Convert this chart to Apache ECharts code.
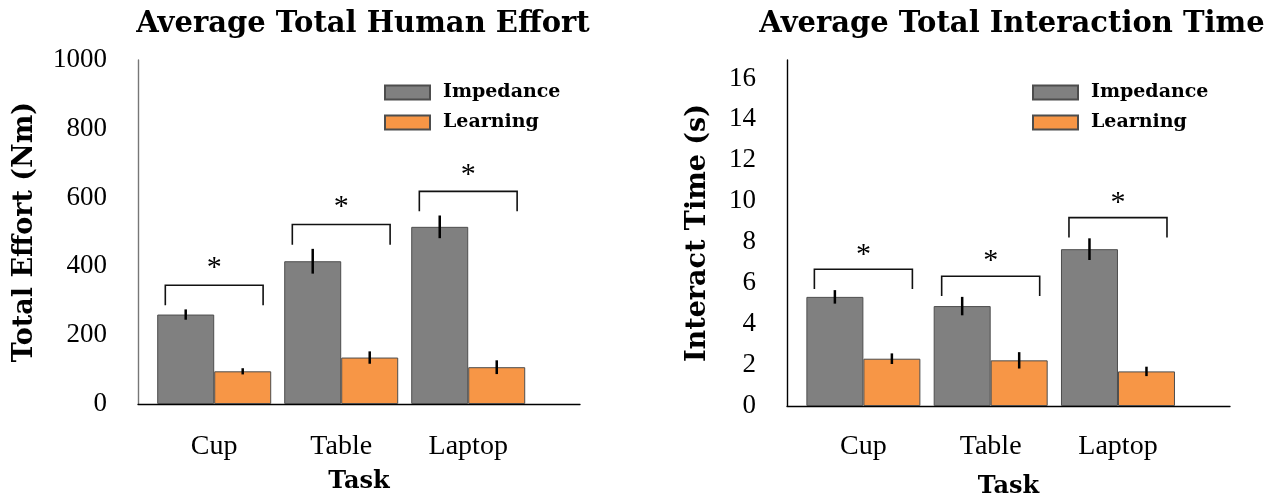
<!DOCTYPE html>
<html>
<head>
  <meta charset="utf-8" />
  <title>Average Total Human Effort / Interaction Time</title>
  <script src="https://cdn.jsdelivr.net/npm/echarts@6/dist/echarts.min.js"></script>
  <style>
    html, body { margin: 0; padding: 0; background: #fff; }
    #main { width: 1265px; height: 504px; }
  </style>
</head>
<body>
  <div id="main"></div>
  <script type="text/javascript">
    // tasks sit at x = 1, 2, 3 on a value axis so the axis can run past them
    var tasks = ['Cup', 'Table', 'Laptop'];
    var taskPos = [1, 2, 3];

    // left panel: total human effort (Nm)
    var effortImpedance = [260, 415, 515];
    var effortImpedanceErr = [15, 36, 33];
    var effortLearning = [95, 135, 107];
    var effortLearningErr = [9, 18, 20];
    var effortBracketTop = [345, 522, 618];
    var effortBracketLeg = [287, 463, 560];
    var effortStar = [406, 583, 678];

    // right panel: total interaction time (s)
    var timeImpedance = [5.33, 4.88, 7.66];
    var timeImpedanceErr = [0.33, 0.45, 0.53];
    var timeLearning = [2.31, 2.23, 1.69];
    var timeLearningErr = [0.26, 0.40, 0.23];
    var timeBracketTop = [6.68, 6.34, 9.2];
    var timeBracketLeg = [5.71, 5.37, 8.23];
    var timeStar = [7.56, 7.25, 10.1];

    var BAR_W = 57;
    var HALF_SPAN = 0.385;
    var SERIF = 'Liberation Serif';
    var BOLD_SERIF = 'DejaVu Serif';

    var myChart = echarts.init(document.getElementById('main'));

    function barSeries(name, values, color, idx) {
      return {
        type: 'bar',
        name: name,
        xAxisIndex: idx,
        yAxisIndex: idx,
        data: values.map(function (v, i) { return [taskPos[i], v]; }),
        barWidth: BAR_W,
        barGap: '0%',
        itemStyle: { color: color, borderColor: '#4d4d4d', borderWidth: 1 },
        emphasis: { disabled: true }
      };
    }

    function errorSeries(values, errs, side, idx) {
      return {
        type: 'custom',
        xAxisIndex: idx,
        yAxisIndex: idx,
        z: 3,
        silent: true,
        data: values.map(function (v, i) { return [taskPos[i], v - errs[i], v + errs[i]]; }),
        renderItem: function (params, api) {
          var lo = api.coord([api.value(0), api.value(1)]);
          var hi = api.coord([api.value(0), api.value(2)]);
          var dx = side * BAR_W / 2;
          return {
            type: 'line',
            shape: { x1: lo[0] + dx, y1: lo[1], x2: hi[0] + dx, y2: hi[1] },
            style: { stroke: '#000', lineWidth: 2.5 }
          };
        }
      };
    }

    function bracketSeries(tops, legs, stars, idx) {
      return {
        type: 'custom',
        xAxisIndex: idx,
        yAxisIndex: idx,
        z: 3,
        silent: true,
        data: tops.map(function (t, i) { return [taskPos[i], t, legs[i], stars[i]]; }),
        renderItem: function (params, api) {
          var x = api.value(0);
          var a = api.coord([x - HALF_SPAN, api.value(2)]);
          var b = api.coord([x - HALF_SPAN, api.value(1)]);
          var c = api.coord([x + HALF_SPAN, api.value(1)]);
          var d = api.coord([x + HALF_SPAN, api.value(2)]);
          var s = api.coord([x, api.value(3)]);
          return {
            type: 'group',
            children: [
              {
                type: 'polyline',
                shape: { points: [a, b, c, d] },
                style: { stroke: '#111', lineWidth: 1.6, fill: null }
              },
              {
                type: 'text',
                x: s[0],
                y: s[1] + 4,
                style: {
                  text: '*', fontFamily: SERIF, fontSize: 30, fill: '#000',
                  align: 'center', verticalAlign: 'middle'
                }
              }
            ]
          };
        }
      };
    }

    function xAxis(idx, gap, margin) {
      return {
        type: 'value',
        gridIndex: idx,
        min: 0.4,
        max: 3.88,
        name: 'Task',
        nameLocation: 'middle',
        nameGap: gap,
        nameTextStyle: { fontFamily: BOLD_SERIF, fontWeight: 'bold', fontSize: 24, color: '#000' },
        axisLine: { onZero: false, lineStyle: { color: '#000', width: 1.3 } },
        axisTick: { show: false },
        splitLine: { show: false },
        axisLabel: {
          customValues: taskPos,
          formatter: function (v) { return tasks[Math.round(v) - 1]; },
          margin: margin,
          fontFamily: SERIF,
          fontSize: 28,
          color: '#000'
        }
      };
    }

    function yAxis(idx, name, max, interval, gap, lineColor) {
      return {
        type: 'value',
        gridIndex: idx,
        min: 0,
        max: max,
        interval: interval,
        name: name,
        nameLocation: 'middle',
        nameGap: gap,
        nameTextStyle: { fontFamily: BOLD_SERIF, fontWeight: 'bold', fontSize: 27, color: '#000' },
        axisLine: { show: true, onZero: false, lineStyle: { color: lineColor, width: 1.4 } },
        axisTick: { show: false },
        splitLine: { show: false },
        axisLabel: {
          margin: 31,
          showMaxLabel: max % interval === 0,
          formatter: function (v) { return String(v); },
          fontFamily: SERIF,
          fontSize: 27,
          color: '#000'
        }
      };
    }

    function legend(left) {
      return {
        left: left,
        top: 78,
        orient: 'vertical',
        icon: 'rect',
        itemWidth: 45,
        itemHeight: 14,
        itemGap: 11,
        selectedMode: false,
        data: ['Impedance', 'Learning'],
        textStyle: {
          fontFamily: BOLD_SERIF, fontWeight: 'bold', fontSize: 19, color: '#000',
          padding: [0, 0, 0, 8]
        }
      };
    }

    var option = {
      animation: false,
      backgroundColor: '#fff',
      title: [
        {
          text: 'Average Total Human Effort',
          left: 358, top: 5, textAlign: 'center',
          textStyle: { fontFamily: BOLD_SERIF, fontWeight: 'bold', fontSize: 29, color: '#000' }
        },
        {
          text: 'Average Total Interaction Time',
          left: 1007, top: 5, textAlign: 'center',
          textStyle: { fontFamily: BOLD_SERIF, fontWeight: 'bold', fontSize: 29, color: '#000' }
        }
      ],
      legend: [legend(379), legend(1027)],
      grid: [
        { left: 138, top: 60, width: 442, height: 344 },
        { left: 787, top: 60, width: 443, height: 346 }
      ],
      xAxis: [xAxis(0, 66, 29), xAxis(1, 69, 27)],
      yAxis: [
        yAxis(0, 'Total Effort (Nm)', 1000, 200, 100, '#777'),
        yAxis(1, 'Interact Time (s)', 16.9, 2, 76, '#000')
      ],
      series: [
        barSeries('Impedance', effortImpedance, '#808080', 0),
        barSeries('Learning', effortLearning, '#f79646', 0),
        errorSeries(effortImpedance, effortImpedanceErr, -1, 0),
        errorSeries(effortLearning, effortLearningErr, 1, 0),
        bracketSeries(effortBracketTop, effortBracketLeg, effortStar, 0),
        barSeries('Impedance', timeImpedance, '#808080', 1),
        barSeries('Learning', timeLearning, '#f79646', 1),
        errorSeries(timeImpedance, timeImpedanceErr, -1, 1),
        errorSeries(timeLearning, timeLearningErr, 1, 1),
        bracketSeries(timeBracketTop, timeBracketLeg, timeStar, 1)
      ]
    };
    myChart.setOption(option);
  </script>
</body>
</html>
